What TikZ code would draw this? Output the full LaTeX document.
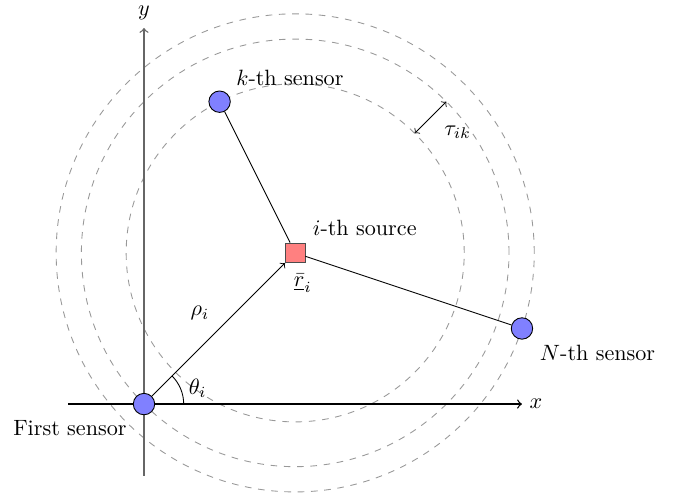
\documentclass[tikz,border=0pt]{standalone}
\begin{document}
\begin{tikzpicture}[x=0.6cm,y=0.6cm,
  sensor/.style={circle,draw=black,fill=blue!50,inner sep=0pt,minimum size=0.34cm},
  source/.style={rectangle,draw=black!70,fill=red!50,inner sep=0pt,minimum size=0.31cm},
  wave/.style={dashed,gray!80},
  lbl/.style={inner sep=1pt}]
\useasboundingbox (-3.81,-2.43) rectangle (14.26,10.69);
% wave fronts
\coordinate (c) at (4,4);
\draw[wave] (c) circle ({sqrt(20)});
\draw[wave] (c) circle ({sqrt(32)});
\draw[wave] (c) circle ({sqrt(40)});
% axes
\coordinate (xs) at (-2,0);
\coordinate (xe) at (10,0);
\coordinate (ys) at (0,-1.9);
\coordinate (ye) at (0,9.95);
\draw[->,semithick] (xs) -- (xe);
\draw[->,semithick,black!60] (ys) -- (ye);
\node[lbl] (xl) at (10.37,0) {$x$};
\node[inner sep=0pt] (yl) at (0,10.36) {$y$};
% nodes
\node[source] (src) at (4,4) {};
\node[sensor] (s1) at (0,0) {};
\node[sensor] (sk) at (2,8) {};
\node[sensor] (sn) at (10,2) {};
% connectors
\draw (sk) -- (src);
\draw (src) -- (sn);
\draw[->] (s1) -- (src);
% angle
\coordinate (a0) at (1.05,0);
\draw (a0) arc (0:45:1.05);
% tau arrow
\coordinate (t1) at ({4+sqrt(10)},{4+sqrt(10)});
\coordinate (t2) at (8,8);
\draw[<->] (t1) -- (t2);
% labels
\node[lbl] (tau) at (8.3,7.2) {$\tau_{ik}$};
\node[lbl] (th) at (1.42,0.42) {$\theta_i$};
\node[lbl] (rho) at (1.48,2.4) {$\rho_i$};
\node[lbl] (rv) at (4.2,3.2) {$\underline{\bar{r}}_i$};
\node[lbl] (srcl) at (5.84,4.65) {$i$-th source};
\node[lbl] (skl) at (3.86,8.62) {$k$-th sensor};
\node[lbl] (snl) at (12.0,1.35) {$N$-th sensor};
\node[lbl] (s1l) at (-1.96,-0.63) {First sensor};
\end{tikzpicture}
\end{document}
